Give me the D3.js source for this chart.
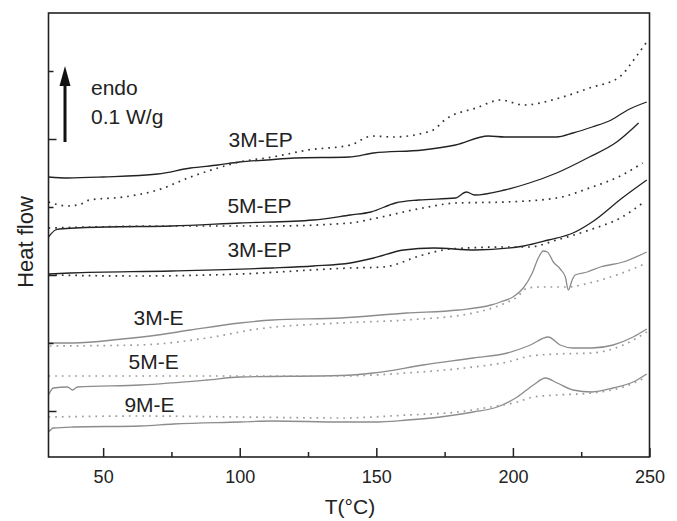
<!DOCTYPE html>
<html><head><meta charset="utf-8">
<script src="https://cdn.jsdelivr.net/npm/d3@7"></script>
<style>body{margin:0;background:#fff}svg{display:block;font-family:Arial,"Liberation Sans",Helvetica,sans-serif}</style>
</head><body><svg id="c" width="677" height="521"></svg>
<script>
// Temperature (°C) and heat flow (arbitrary offset units)
const ep3TopSolidT = [30,37,50,70,82,92,100,110,120,140,149,167,179,191,197,207,216,222,229,236,242,249];
const ep3TopSolidV = [234,233,234,237,243,246,249,251,253,254,258,261,266,275,274,274,274,278,284,291,301,309];
const ep3TopDotT = [30,37,42,45,57.5,70,82,92,100,112,125,140.5,148.5,156,170,176,186.5,195.5,204,217,228,239,245,249.5];
const ep3TopDotV = [209,205,207,211,214,221,234,243,249,254,261,266,275,274,280,293,303,311,306,313,323,334,354,371];
const ep5SolidT = [30,32.5,34,51,75,100,127,140.5,148,157,165.5,179,183,186,197,206,216,228,238,246];
const ep5SolidV = [174,181,182,184,185,188,191,196,199,208,211,213,219,216,221,228,238,254,269,288];
const ep5DotT = [30,75,112,140.5,148.5,167,179,197,216,228,240,247.5];
const ep5DotV = [183,185,185,188,192,203,208,209,213,223,236,248];
const ep3LowSolidT = [30,38,75,112,127,140.5,149,160,171,186,204,213,222,229,240,249];
const ep3LowSolidV = [137,138,140,143,145,148,153,161,163,161,165,171,178,189,213,231];
const ep3LowDotT = [30,63,100,140.5,152.5,167,177,197,206,216,228,240,247.5];
const ep3LowDotV = [136,135,137,143,144,156,162,164,164,171,181,194,208];
const e3SolidT = [30,39,57,70,82,100,112,137,161,180,192,195.4,200,203.8,207.1,209.3,211.1,212.6,214.8,217.3,219.2,220.3,221.7,222.8,227.2,232,240.4,249];
const e3SolidV = [68,68,72,76,81,88,91,93,98,101,106,109,114,123,138,153,160,159,149,142,134,121,131,136,139,144,149,159];
const e3DotT = [30.5,63,88,106.5,136.8,161,185.5,195.5,201.5,205.3,210,220,228,240,249];
const e3DotV = [65,66,73,82,88,91,98,106,114,123,124,124,128,138,148];
const e5SolidT = [30,31.8,37,38.8,40.6,63.7,88,100,137,148.9,167.2,185.5,198,206.4,212.9,217.3,222,228.9,236.7,244,249];
const e5SolidV = [16,23,24,21,24,26,31,34,35.5,38,46,53,58,66,74,66,63,63,66,74,82];
const e5DotT = [30,137,161,185.5,198,206.4,216,228.9,240.4,249];
const e5DotV = [35,35,38,44,49,55,57,58,66,79];
const e9SolidT = [30,31.8,39,63.7,75.8,100,112,137,148.9,161.4,173.4,185.5,194.3,201.6,207.5,211.9,216.2,222,228.9,236.7,244,249];
const e9SolidV = [-21,-17,-16,-15,-13,-11,-10,-11,-11,-9,-6,-1,4,14,26,33,28,21,19,23,29,37];
const e9DotT = [30,63.7,100,137,161.4,179.7,191.7,201.6,207.5,216.2,228.9,240.4,249];
const e9DotV = [-6,-5,-6,-7,-4,-1,4,9,14,16,18,24,34];

const xMajorTicks = [50,100,150,200,250];
const xMinorTicks = [75,125,175,225];
const yMajorTicks = [0,136,272];
const yMinorTicks = [68,204,340];

const labelTexts = ["3M-EP","5M-EP","3M-EP","3M-E","5M-E","9M-E"];
const labelT = [95.9,95.5,95.5,61.1,59.3,57.8];
const labelV = [264,198,154,86,42,-1];

const curves = [
  {t:ep3TopSolidT, v:ep3TopSolidV, dark:true, dot:false},
  {t:ep3TopDotT, v:ep3TopDotV, dark:true, dot:true},
  {t:ep5SolidT, v:ep5SolidV, dark:true, dot:false},
  {t:ep5DotT, v:ep5DotV, dark:true, dot:true},
  {t:ep3LowSolidT, v:ep3LowSolidV, dark:true, dot:false},
  {t:ep3LowDotT, v:ep3LowDotV, dark:true, dot:true},
  {t:e3SolidT, v:e3SolidV, dark:false, dot:false},
  {t:e3DotT, v:e3DotV, dark:false, dot:true},
  {t:e5SolidT, v:e5SolidV, dark:false, dot:false},
  {t:e5DotT, v:e5DotV, dark:false, dot:true},
  {t:e9SolidT, v:e9SolidV, dark:false, dot:false},
  {t:e9DotT, v:e9DotV, dark:false, dot:true}
];

const svg = d3.select("#c");
const x = d3.scaleLinear().domain([30,250]).range([48.5,649.5]);
const y = d3.scaleLinear().domain([-46,398]).range([457,13]);

const line = d3.line().x(d=>x(d[0])).y(d=>y(d[1])).curve(d3.curveMonotoneX);

const g = svg.append("g");
curves.forEach(c=>{
  const pts = c.t.map((t,i)=>[t,c.v[i]]);
  g.append("path").attr("d", line(pts)).attr("fill","none")
    .attr("stroke", c.dark ? (c.dot ? "#333" : "#222") : (c.dot ? "#9a9a9a" : "#8c8c8c"))
    .attr("stroke-width", c.dot ? 1.7 : 1.3)
    .attr("stroke-dasharray", c.dot ? "1.7,5" : null);
});

// axes ticks (inward)
const axB = svg.append("g").attr("transform","translate(0,457)")
  .call(d3.axisBottom(x).tickValues(xMajorTicks).tickSizeInner(-9).tickSizeOuter(0).tickPadding(13).tickFormat(d3.format("d")));
const axBm = svg.append("g").attr("transform","translate(0,457)")
  .call(d3.axisBottom(x).tickValues(xMinorTicks).tickSizeInner(-5).tickSizeOuter(0).tickFormat(""));
const axL = svg.append("g").attr("transform","translate(48.5,0)")
  .call(d3.axisLeft(y).tickValues(yMajorTicks).tickSizeInner(-8).tickSizeOuter(0).tickFormat(""));
const axLm = svg.append("g").attr("transform","translate(48.5,0)")
  .call(d3.axisLeft(y).tickValues(yMinorTicks).tickSizeInner(-5).tickSizeOuter(0).tickFormat(""));
[axB,axBm,axL,axLm].forEach(a=>{
  a.select(".domain").remove();
  a.selectAll("line").attr("stroke","#222").attr("stroke-width",1.5);
});
axB.selectAll("text").attr("font-size",18).attr("fill","#222").attr("font-family","Arial, 'Liberation Sans', sans-serif");

// frame
svg.append("rect").attr("x",x(30)).attr("y",y(398)).attr("width",x(250)-x(30)).attr("height",y(-46)-y(398))
  .attr("fill","none").attr("stroke","#222").attr("stroke-width",1.6);

// curve labels
labelTexts.forEach((s,i)=>{
  svg.append("text").attr("x",x(labelT[i])).attr("y",y(labelV[i])).text(s)
    .attr("font-size",21).attr("fill","#222");
});

// arrow
const ax = 65;
svg.append("line").attr("x1",ax).attr("x2",ax).attr("y1",142).attr("y2",82)
  .attr("stroke","#111").attr("stroke-width",3);
svg.append("path").attr("d",`M${ax-5.5},86 L${ax},66 L${ax+5.5},86 Z`).attr("fill","#111");
svg.append("text").attr("x",91).attr("y",95).text("endo").attr("font-size",21).attr("fill","#222");
svg.append("text").attr("x",91).attr("y",124).text("0.1 W/g").attr("font-size",21).attr("fill","#222");

// axis titles
svg.append("text").attr("x",350).attr("y",514).attr("text-anchor","middle").text("T(°C)")
  .attr("font-size",21).attr("fill","#222");
svg.append("text").attr("transform","translate(33,242) rotate(-90)").attr("text-anchor","middle")
  .text("Heat flow").attr("font-size",22).attr("fill","#222");
</script></body></html>
